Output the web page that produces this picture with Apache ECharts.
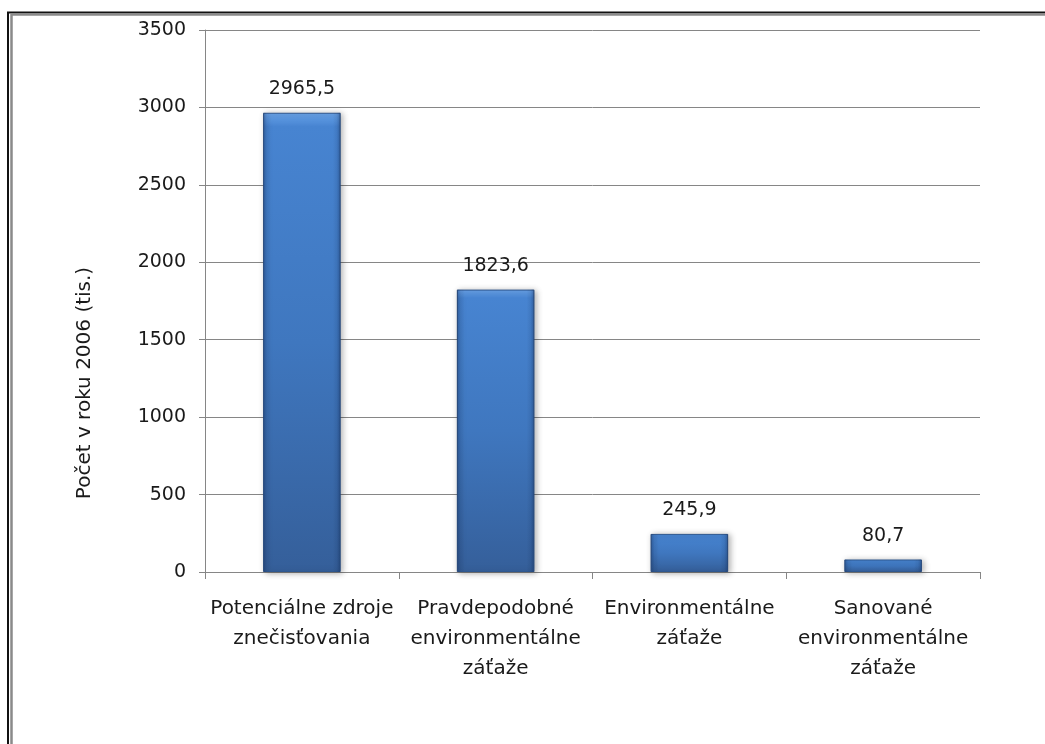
<!DOCTYPE html>
<html>
<head>
<meta charset="utf-8">
<script src="https://cdn.jsdelivr.net/npm/echarts@6/dist/echarts.min.js"></script>
<style>
  html, body { margin: 0; padding: 0; background: #fff; }
  #chart { width: 1045px; height: 744px; }
</style>
</head>
<body>
<div id="chart"></div>
<script>
// Categories (line breaks as printed under the axis)
const categories = [
  'Potenciálne zdroje\nznečisťovania',
  'Pravdepodobné\nenvironmentálne\nzáťaže',
  'Environmentálne\nzáťaže',
  'Sanované\nenvironmentálne\nzáťaže'
];
// Counts in 2006, thousands
const values = [2965.5, 1823.6, 245.9, 80.7];
const yAxisTitle = 'Počet v roku 2006 (tis.)';

const FONT = 'DejaVu Sans';
const AXIS_GRAY = '#868686';
const TEXT = '#1a1a1a';

const chart = echarts.init(document.getElementById('chart'), null, { renderer: 'canvas' });

// bar body: bright blue on top fading to a deeper blue at the base
const bodyGradient = new echarts.graphic.LinearGradient(0, 0, 0, 1, [
  { offset: 0, color: '#6aa3e8' },
  { offset: 0.015, color: '#5894de' },
  { offset: 0.03, color: '#4784d1' },
  { offset: 0.5, color: '#3f77bf' },
  { offset: 1, color: '#355f9a' }
]);
// side bevel overlay
const sideGradient = new echarts.graphic.LinearGradient(0, 0, 1, 0, [
  { offset: 0, color: 'rgba(10,30,70,0.35)' },
  { offset: 0.05, color: 'rgba(10,30,70,0.08)' },
  { offset: 0.1, color: 'rgba(0,0,0,0)' },
  { offset: 0.9, color: 'rgba(0,0,0,0)' },
  { offset: 0.95, color: 'rgba(10,30,70,0.08)' },
  { offset: 1, color: 'rgba(10,30,70,0.35)' }
]);

chart.setOption({
  animation: false,
  backgroundColor: '#ffffff',
  graphic: [
    {
      type: 'rect', silent: true, z: 10,
      shape: { x: 8, y: 12.5, width: 1200, height: 900 },
      style: { fill: 'none', stroke: '#111', lineWidth: 2 }
    },
    {
      type: 'rect', silent: true, z: 10,
      shape: { x: 11.5, y: 14.5, width: 1200, height: 900 },
      style: { fill: 'none', stroke: '#8a8a8a', lineWidth: 2.5 }
    },
    {
      type: 'text', silent: true, z: 10,
      x: 85, y: 383, rotation: Math.PI / 2,
      style: {
        text: yAxisTitle, fontFamily: FONT, fontSize: 20, fill: TEXT,
        align: 'center', verticalAlign: 'middle'
      }
    }
  ],
  grid: { left: 205, right: 65, top: 30, bottom: 172, containLabel: false },
  xAxis: {
    type: 'category',
    data: categories,
    axisLine: { lineStyle: { color: AXIS_GRAY, width: 1 } },
    axisTick: { show: true, length: 7, lineStyle: { color: AXIS_GRAY } },
    axisLabel: {
      interval: 0, margin: 22, color: TEXT,
      fontFamily: FONT, fontSize: 20, lineHeight: 30
    }
  },
  yAxis: {
    type: 'value',
    min: 0, max: 3500, interval: 500,
    axisLine: { show: true, lineStyle: { color: AXIS_GRAY, width: 1 } },
    axisTick: { show: true, length: 6, lineStyle: { color: AXIS_GRAY } },
    axisLabel: {
      margin: 19, color: TEXT, fontFamily: FONT, fontSize: 19,
      formatter: v => String(v)
    },
    splitLine: { lineStyle: { color: AXIS_GRAY, width: 1 } }
  },
  series: [
    {
      type: 'bar',
      data: values,
      barWidth: '40%',
      itemStyle: {
        color: bodyGradient,
        borderColor: '#2f5890',
        borderWidth: 1,
        shadowColor: 'rgba(0,0,0,0.3)',
        shadowBlur: 6,
        shadowOffsetX: 2,
        shadowOffsetY: 1
      },
      label: {
        show: true,
        position: 'top',
        distance: 14,
        fontFamily: FONT,
        fontSize: 19,
        color: TEXT,
        formatter: p => String(p.value).replace('.', ',')
      }
    },
    {
      type: 'bar',
      data: values,
      barWidth: '40%',
      barGap: '-100%',
      silent: true,
      itemStyle: { color: sideGradient },
      label: { show: false }
    }
  ]
});
</script>
</body>
</html>
